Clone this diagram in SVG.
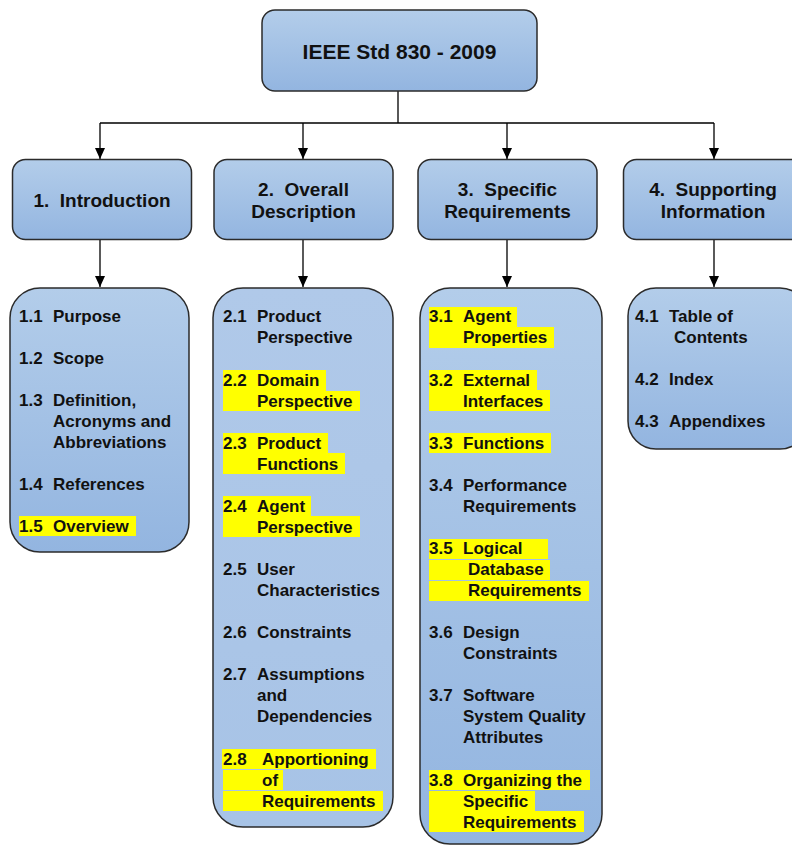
<svg xmlns="http://www.w3.org/2000/svg" width="792" height="845" viewBox="0 0 792 845">
<defs>
<linearGradient id="g" x1="0" y1="0" x2="0" y2="1">
<stop offset="0" stop-color="#b3cdea"/>
<stop offset="1" stop-color="#93b5e0"/>
</linearGradient>
<linearGradient id="g2" x1="0" y1="0" x2="0" y2="1">
<stop offset="0" stop-color="#b0c9e9"/>
<stop offset="1" stop-color="#a7c3e6"/>
</linearGradient>
<marker id="arr" markerUnits="userSpaceOnUse" markerWidth="11" markerHeight="10" refX="11" refY="5" orient="auto" viewBox="0 0 11 10">
<path d="M0,0 L11,5 L0,10 Z" fill="#000"/>
</marker>
<style>
.box{stroke:#2b2b2b;stroke-width:1.5;fill:url(#g)}
.t{font-family:"Liberation Sans",Arial,sans-serif;font-weight:bold;fill:#111}
.top{font-size:21px}
.h1{font-size:19px}
.it{font-size:17px}
.hl{fill:#ffff00}
.c{stroke:#000;stroke-width:1.3;fill:none}
</style>
</defs>

<g id="connectors">
<path class="c" d="M398,91 V123 M100,123 H714"/>
<line class="c" x1="100" y1="123" x2="100" y2="159" marker-end="url(#arr)"/>
<line class="c" x1="303" y1="123" x2="303" y2="159" marker-end="url(#arr)"/>
<line class="c" x1="507" y1="123" x2="507" y2="159" marker-end="url(#arr)"/>
<line class="c" x1="714" y1="123" x2="714" y2="159" marker-end="url(#arr)"/>
<line class="c" x1="100" y1="240" x2="100" y2="287" marker-end="url(#arr)"/>
<line class="c" x1="303" y1="240" x2="303" y2="287" marker-end="url(#arr)"/>
<line class="c" x1="507" y1="240" x2="507" y2="287" marker-end="url(#arr)"/>
<line class="c" x1="714" y1="240" x2="714" y2="287" marker-end="url(#arr)"/>
</g>

<g id="root">
<rect class="box" x="262" y="10" width="275" height="81" rx="13"/>
<text class="t top" x="399.5" y="59" text-anchor="middle">IEEE Std 830 - 2009</text>
</g>

<g id="n1">
<rect class="box" x="12.5" y="159.5" width="179" height="80" rx="13"/>
<text class="t h1" x="102" y="207" text-anchor="middle">1.&#160; Introduction</text>
</g>
<g id="n2">
<rect class="box" x="214" y="159.5" width="179" height="80" rx="13"/>
<text class="t h1" x="303.5" y="196" text-anchor="middle">2.&#160; Overall</text>
<text class="t h1" x="303.5" y="218" text-anchor="middle">Description</text>
</g>
<g id="n3">
<rect class="box" x="418" y="159.5" width="179" height="80" rx="13"/>
<text class="t h1" x="507.5" y="196" text-anchor="middle">3.&#160; Specific</text>
<text class="t h1" x="507.5" y="218" text-anchor="middle">Requirements</text>
</g>
<g id="n4">
<rect class="box" x="623.5" y="159.5" width="180" height="80" rx="13"/>
<text class="t h1" x="713" y="196" text-anchor="middle">4.&#160; Supporting</text>
<text class="t h1" x="713" y="218" text-anchor="middle">Information</text>
</g>

<g id="n1-items">
<rect class="box" x="10" y="288" width="179" height="264" rx="30"/>
<rect class="hl" x="19" y="516" width="117" height="20"/>
<g class="t it">
<text x="19" y="322">1.1</text><text x="53" y="322">Purpose</text>
<text x="19" y="364">1.2</text><text x="53" y="364">Scope</text>
<text x="19" y="406">1.3</text><text x="53" y="406">Definition,</text>
<text x="53" y="427">Acronyms and</text>
<text x="53" y="448">Abbreviations</text>
<text x="19" y="490">1.4</text><text x="53" y="490">References</text>
<text x="19" y="532">1.5</text><text x="53" y="532">Overview</text>
</g>
</g>

<g id="n2-items">
<rect class="box" x="213" y="288" width="180" height="539" rx="30" style="fill:url(#g2)"/>
<rect class="hl" x="223" y="370" width="103" height="21"/>
<rect class="hl" x="223" y="391" width="137" height="20"/>
<rect class="hl" x="223" y="433" width="105" height="20"/>
<rect class="hl" x="223" y="453" width="122" height="21"/>
<rect class="hl" x="223" y="496" width="88" height="20"/>
<rect class="hl" x="223" y="516" width="137" height="21"/>
<rect class="hl" x="222" y="749" width="154" height="20"/>
<rect class="hl" x="223" y="770" width="60" height="20"/>
<rect class="hl" x="223" y="791" width="160" height="20"/>
<g class="t it">
<text x="223" y="322">2.1</text><text x="257" y="322">Product</text>
<text x="257" y="343">Perspective</text>
<text x="223" y="386">2.2</text><text x="257" y="386">Domain</text>
<text x="257" y="407">Perspective</text>
<text x="223" y="449">2.3</text><text x="257" y="449">Product</text>
<text x="257" y="470">Functions</text>
<text x="223" y="512">2.4</text><text x="257" y="512">Agent</text>
<text x="257" y="533">Perspective</text>
<text x="223" y="575">2.5</text><text x="257" y="575">User</text>
<text x="257" y="596">Characteristics</text>
<text x="223" y="638">2.6</text><text x="257" y="638">Constraints</text>
<text x="223" y="680">2.7</text><text x="257" y="680">Assumptions</text>
<text x="257" y="701">and</text>
<text x="257" y="722">Dependencies</text>
<text x="223" y="765">2.8</text><text x="262" y="765">Apportioning</text>
<text x="262" y="786">of</text>
<text x="262" y="807">Requirements</text>
</g>
</g>

<g id="n3-items">
<rect class="box" x="420" y="288" width="182" height="556" rx="30"/>
<rect class="hl" x="429" y="307" width="88" height="20"/>
<rect class="hl" x="429" y="327" width="125" height="21"/>
<rect class="hl" x="429" y="370" width="108" height="20"/>
<rect class="hl" x="429" y="390" width="121" height="21"/>
<rect class="hl" x="429" y="433" width="122" height="20"/>
<rect class="hl" x="429" y="539" width="119" height="20"/>
<rect class="hl" x="429" y="560" width="121" height="20"/>
<rect class="hl" x="429" y="581" width="160" height="20"/>
<rect class="hl" x="429" y="770" width="161" height="20"/>
<rect class="hl" x="429" y="791" width="106" height="20"/>
<rect class="hl" x="429" y="811" width="155" height="21"/>
<g class="t it">
<text x="429" y="322">3.1</text><text x="463" y="322">Agent</text>
<text x="463" y="343">Properties</text>
<text x="429" y="386">3.2</text><text x="463" y="386">External</text>
<text x="463" y="407">Interfaces</text>
<text x="429" y="449">3.3</text><text x="463" y="449">Functions</text>
<text x="429" y="491">3.4</text><text x="463" y="491">Performance</text>
<text x="463" y="512">Requirements</text>
<text x="429" y="554">3.5</text><text x="463" y="554">Logical</text>
<text x="468" y="575">Database</text>
<text x="468" y="596">Requirements</text>
<text x="429" y="638">3.6</text><text x="463" y="638">Design</text>
<text x="463" y="659">Constraints</text>
<text x="429" y="701">3.7</text><text x="463" y="701">Software</text>
<text x="463" y="722">System Quality</text>
<text x="463" y="743">Attributes</text>
<text x="429" y="786">3.8</text><text x="463" y="786">Organizing the</text>
<text x="463" y="807">Specific</text>
<text x="463" y="828">Requirements</text>
</g>
</g>

<g id="n4-items">
<rect class="box" x="628" y="288" width="180" height="161" rx="28"/>
<g class="t it">
<text x="635" y="322">4.1</text><text x="669" y="322">Table of</text>
<text x="674" y="343">Contents</text>
<text x="635" y="385">4.2</text><text x="669" y="385">Index</text>
<text x="635" y="427">4.3</text><text x="669" y="427">Appendixes</text>
</g>
</g>
</svg>
